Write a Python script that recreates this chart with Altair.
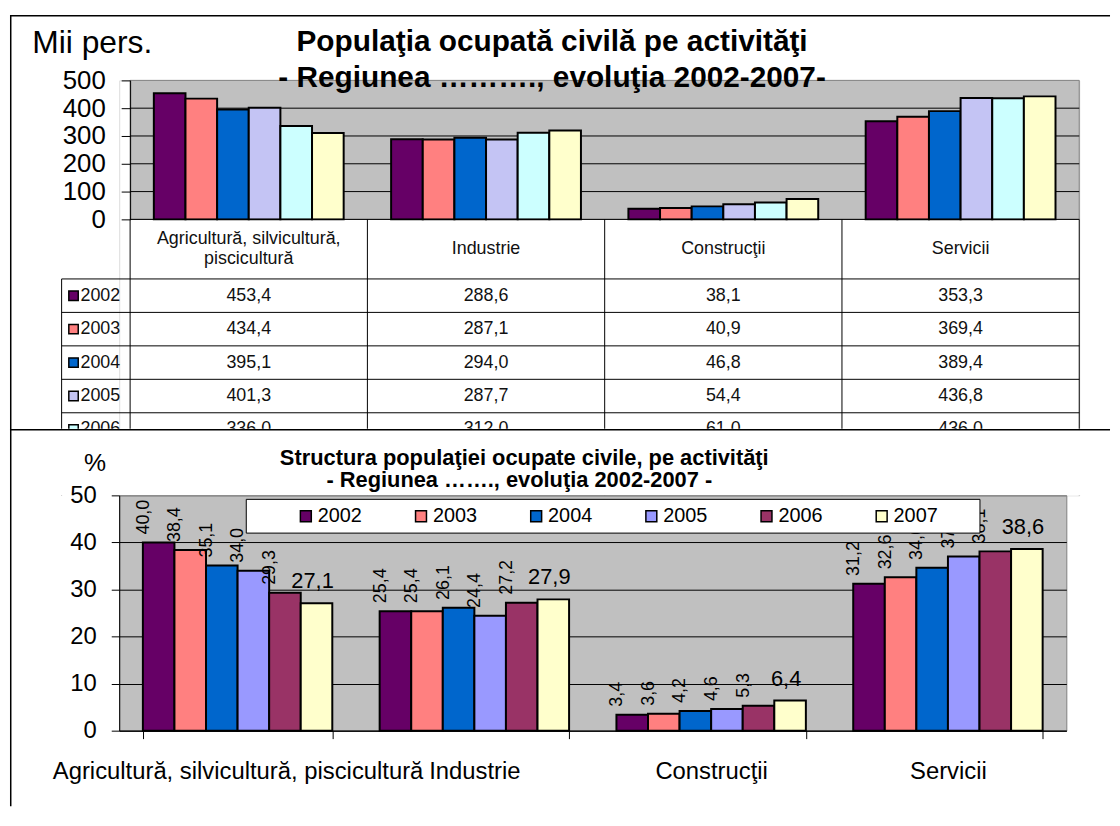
import altair as alt
import pandas as pd

FONT = "Liberation Sans"

# ---------------- data ----------------
categories = ["Agricultură, silvicultură, piscicultură", "Industrie", "Construcţii", "Servicii"]
header_labels = ["Agricultură, silvicultură,\npiscicultură", "Industrie", "Construcţii", "Servicii"]
years = ["2002", "2003", "2004", "2005", "2006", "2007"]

mii_2002 = [453.4, 288.6, 38.1, 353.3]
mii_2003 = [434.4, 287.1, 40.9, 369.4]
mii_2004 = [395.1, 294.0, 46.8, 389.4]
mii_2005 = [401.3, 287.7, 54.4, 436.8]
mii_2006 = [336.0, 312.0, 61.0, 436.0]
mii_2007 = [311.0, 320.0, 73.5, 442.5]

pct_2002 = [40.0, 25.4, 3.4, 31.2]
pct_2003 = [38.4, 25.4, 3.6, 32.6]
pct_2004 = [35.1, 26.1, 4.2, 34.6]
pct_2005 = [34.0, 24.4, 4.6, 37.0]
pct_2006 = [29.3, 27.2, 5.3, 38.1]
pct_2007 = [27.1, 27.9, 6.4, 38.6]

top_ticks = [0, 100, 200, 300, 400, 500]
top_grid = [100, 200, 300, 400]
bottom_ticks = [0, 10, 20, 30, 40, 50]

top_colors = ["#660066", "#FF8080", "#0066CC", "#C4C4F4", "#CCFFFF", "#FFFFCC"]
bottom_colors = ["#660066", "#FF8080", "#0066CC", "#9999FF", "#993366", "#FFFFCC"]

title_top = ["Populaţia ocupată civilă pe activităţi", "- Regiunea ………., evoluţia 2002-2007-"]
title_bottom = ["Structura populaţiei ocupate civile, pe activităţi", "- Regiunea ……., evoluţia 2002-2007 -"]


def fmt(v):
    return f"{v:.1f}".replace(".", ",")


mii = [mii_2002, mii_2003, mii_2004, mii_2005, mii_2006, mii_2007]
pct = [pct_2002, pct_2003, pct_2004, pct_2005, pct_2006, pct_2007]

abs_rows, pct_rows = [], []
for yi, yr in enumerate(years):
    for ci, cat in enumerate(categories):
        abs_rows.append({"cat": cat, "an": yr, "v": mii[yi][ci], "lbl": fmt(mii[yi][ci]),
                         "ci": ci, "ri": yi})
        pct_rows.append({"cat": cat, "an": yr, "p": pct[yi][ci], "lbl": fmt(pct[yi][ci])})
abs_df = pd.DataFrame(abs_rows)
pct_df = pd.DataFrame(pct_rows)
one = pd.DataFrame({"k": [0]})

# ---------------- top part: bar chart + data table (one layered view) ----------------
# view origin = left edge of the lower plot; the upper plot starts SH px to the right
SH = 11
A_W, A_H = 956, 140
T_H = 278
TOP_W, TOP_H = SH + A_W, A_H + T_H
CUT = 211  # table is cut off this many px below its top

ROW = 33.7
HDR = 60 / ROW
LINE = 20 / ROW
LABW = 69 / 239
Y_MAX = T_H / ROW

xs_bar = alt.Scale(range=[SH, SH + A_W], paddingInner=0.2, paddingOuter=0.1)
ys_bar = alt.Scale(domain=[0, 500], range=[A_H, 0], nice=False, zero=False)
xs_tab = alt.Scale(domain=[0, 4], range=[SH, SH + A_W], nice=False, zero=False)
ys_tab = alt.Scale(domain=[0, Y_MAX], range=[A_H, TOP_H], nice=False, zero=False)

plot_bg = alt.Chart(one).mark_rect(fill="#C0C0C0", stroke="#808080", strokeWidth=1).encode(
    x=alt.value(SH), x2=alt.value(SH + A_W), y=alt.value(0), y2=alt.value(A_H))

grid_a = alt.Chart(pd.DataFrame({"t": top_grid})).mark_rule(color="black", strokeWidth=1).encode(
    y=alt.Y("t:Q", scale=ys_bar, axis=None), x=alt.value(SH), x2=alt.value(SH + A_W))

bars_a = alt.Chart(abs_df).mark_bar(stroke="black", strokeWidth=2).encode(
    x=alt.X("cat:N", sort=categories, axis=None, scale=xs_bar),
    xOffset=alt.XOffset("an:N", sort=years, scale=alt.Scale(paddingInner=0, paddingOuter=0)),
    y=alt.Y("v:Q", scale=ys_bar,
            axis=alt.Axis(orient="left", offset=-SH, zindex=1, grid=False, values=top_ticks,
                          title="Mii pers.", titleAngle=0, titleAlign="left",
                          titleBaseline="alphabetic", titleX=-99, titleY=-28, titleFontSize=32,
                          titleFont=FONT, titleFontWeight="normal", titleColor="black",
                          labelFont=FONT, labelFontSize=26, labelColor="black", labelPadding=16,
                          labelOverlap=False, tickSize=9, tickColor="black", domainColor="black")),
    color=alt.Color("an:N", sort=years, scale=alt.Scale(domain=years, range=top_colors), legend=None),
)

t_a1 = alt.Chart(one).mark_text(text=title_top[0], font=FONT, fontSize=30, fontWeight="bold",
                                align="center", baseline="alphabetic", color="black").encode(
    x=alt.value(436), y=alt.value(-30))
t_a2 = alt.Chart(one).mark_text(text=title_top[1], font=FONT, fontSize=30, fontWeight="bold",
                                align="center", baseline="alphabetic", color="black").encode(
    x=alt.value(436), y=alt.value(7))

# table (only the rows that start above the cut are drawn)
n_vis = sum(1 for i in range(len(years)) if (HDR + i) * ROW < CUT)
hl = pd.DataFrame(
    [{"x1": 0, "x2": 4, "y": 0}] +
    [{"x1": -LABW, "x2": 4, "y": HDR + i} for i in range(n_vis + 1)])
vl = pd.DataFrame(
    [{"x": float(i), "y1": 0, "y2": Y_MAX} for i in range(len(categories) + 1)] +
    [{"x": -LABW, "y1": HDR, "y2": Y_MAX}])
head_rows = []
for ci, lab in enumerate(header_labels):
    parts = lab.split("\n")
    for li, part in enumerate(parts):
        head_rows.append({"h": part, "cx": ci + 0.5,
                          "cy": HDR / 2 + (li - (len(parts) - 1) / 2) * LINE})
head_df = pd.DataFrame(head_rows)
vis_df = abs_df[abs_df["ri"] < n_vis]
cell_df = vis_df.assign(cx=vis_df["ci"] + 0.5, cy=HDR + vis_df["ri"] + 0.5)
rowlab_df = pd.DataFrame({"an": years[:n_vis], "cy": [HDR + i + 0.5 for i in range(n_vis)]})

h_rules = alt.Chart(hl).mark_rule(color="black", strokeWidth=1).encode(
    x=alt.X("x1:Q", scale=xs_tab, axis=None), x2="x2:Q", y=alt.Y("y:Q", scale=ys_tab, axis=None))
v_rules = alt.Chart(vl).mark_rule(color="black", strokeWidth=1).encode(
    x=alt.X("x:Q", scale=xs_tab, axis=None), y=alt.Y("y1:Q", scale=ys_tab, axis=None), y2="y2:Q")
heads = alt.Chart(head_df).mark_text(font=FONT, fontSize=18, align="center", baseline="middle",
                                     color="#111").encode(
    x=alt.X("cx:Q", scale=xs_tab, axis=None), y=alt.Y("cy:Q", scale=ys_tab, axis=None), text="h:N")
cells = alt.Chart(cell_df).mark_text(font=FONT, fontSize=18, align="center", baseline="middle",
                                     color="#111").encode(
    x=alt.X("cx:Q", scale=xs_tab, axis=None), y=alt.Y("cy:Q", scale=ys_tab, axis=None), text="lbl:N")
squares = alt.Chart(rowlab_df).mark_square(size=90, stroke="black", strokeWidth=1.5, opacity=1).encode(
    x=alt.value(-46), y=alt.Y("cy:Q", scale=ys_tab, axis=None),
    color=alt.Color("an:N", sort=years, scale=alt.Scale(domain=years, range=top_colors), legend=None))
rowlabs = alt.Chart(rowlab_df).mark_text(font=FONT, fontSize=18, align="left", baseline="middle",
                                         color="#111").encode(
    x=alt.value(-39), y=alt.Y("cy:Q", scale=ys_tab, axis=None), text="an:N")
mask = alt.Chart(one).mark_rect(color="white", opacity=1).encode(
    x=alt.value(-109), x2=alt.value(999), y=alt.value(A_H + CUT), y2=alt.value(TOP_H))

# frame lines of the two panels
frame_left = alt.Chart(one).mark_rule(color="black", strokeWidth=1.5).encode(
    x=alt.value(-109.25), y=alt.value(-65), y2=alt.value(731))
frame_top = alt.Chart(one).mark_rule(color="black", strokeWidth=1.5).encode(
    x=alt.value(-110), x2=alt.value(998), y=alt.value(-65))
frame_mid = alt.Chart(one).mark_rule(color="black", strokeWidth=1.5).encode(
    x=alt.value(-110), x2=alt.value(998), y=alt.value(A_H + CUT + 1))

chart_top = alt.layer(plot_bg, grid_a, bars_a, t_a1, t_a2, h_rules, v_rules, heads, cells,
                      squares, rowlabs, mask, frame_left, frame_top, frame_mid).resolve_scale(
    x="independent", y="independent", color="independent").properties(width=TOP_W, height=TOP_H)

# ---------------- bottom chart ----------------
B_W, B_H = 954, 237
grid_color_b = {"condition": {"test": "datum.value === 50", "value": "#808080"}, "value": "black"}

xb = alt.X("cat:N", sort=categories, scale=alt.Scale(paddingInner=0.2, paddingOuter=0.1),
           axis=alt.Axis(title=None, labelFont=FONT, labelFontSize=24, labelColor="black",
                         labelAngle=0, labelPadding=21, labelLimit=0, labelOverlap=False,
                         tickBand="extent", tickSize=8, tickColor="black", domainColor="black"))
xob = alt.XOffset("an:N", sort=years, scale=alt.Scale(paddingInner=0, paddingOuter=0))
yb = alt.Y("p:Q", scale=alt.Scale(domain=[0, 50], nice=False),
           axis=alt.Axis(values=bottom_ticks, title="%", titleAngle=0, titleAlign="left",
                         titleBaseline="alphabetic", titleX=-36, titleY=-25, titleFontSize=25,
                         titleFont=FONT, titleFontWeight="normal", titleColor="black",
                         labelFont=FONT, labelFontSize=24, labelColor="black", labelPadding=15,
                         labelOverlap=False, tickSize=8, tickColor="black", domainColor="black",
                         grid=True, gridColor=grid_color_b, gridWidth=1))

bars_b = alt.Chart(pct_df).mark_bar(stroke="black", strokeWidth=2).encode(
    x=xb, xOffset=xob, y=yb,
    color=alt.Color("an:N", sort=years, scale=alt.Scale(domain=years, range=bottom_colors),
                    legend=alt.Legend(orient="none", legendX=178, legendY=11, direction="horizontal",
                                      title=None, symbolType="square", symbolSize=121,
                                      symbolStrokeColor="black", symbolStrokeWidth=1.5,
                                      symbolOpacity=1, labelFont=FONT, labelFontSize=20,
                                      labelColor="black", labelOffset=2, columnPadding=49,
                                      padding=0)))

lab_rot = alt.Chart(pct_df).transform_filter(alt.datum.an != "2007").mark_text(
    angle=270, align="left", baseline="alphabetic", dx=8, dy=-10, font=FONT, fontSize=18,
    color="black").encode(x=xb, xOffset=xob, y=yb, text="lbl:N")
lab_hor = alt.Chart(pct_df).transform_filter(alt.datum.an == "2007").mark_text(
    align="center", baseline="alphabetic", dx=-4, dy=-15, font=FONT, fontSize=22,
    color="black").encode(x=xb, xOffset=xob, y=yb, text="lbl:N")

legend_box = alt.Chart(one).mark_rect(fill="white", stroke="black", strokeWidth=1).encode(
    x=alt.value(128), x2=alt.value(867), y=alt.value(4), y2=alt.value(38))

t_b1 = alt.Chart(one).mark_text(text=title_bottom[0], font=FONT, fontSize=22, fontWeight="bold",
                                align="center", baseline="alphabetic", color="black").encode(
    x=alt.value(408), y=alt.value(-31))
t_b2 = alt.Chart(one).mark_text(text=title_bottom[1], font=FONT, fontSize=22, fontWeight="bold",
                                align="center", baseline="alphabetic", color="black").encode(
    x=alt.value(403), y=alt.value(-8))

chart_b = alt.layer(bars_b, lab_rot, lab_hor, legend_box, t_b1, t_b2).properties(
    width=B_W, height=B_H,
    view=alt.ViewBackground(fill="#C0C0C0", stroke="#808080", strokeWidth=1))

# ---------------- assemble ----------------
chart = alt.vconcat(chart_top, chart_b, spacing=0, bounds="flush").resolve_scale(
    color="independent", x="independent", y="independent", xOffset="independent"
).properties(
    padding={"top": 3, "left": 0, "right": 0, "bottom": 0}, background="white"
).configure_view(stroke=None).configure(font=FONT)

chart.save("out.html", embed_options={"renderer": "svg", "actions": False})
